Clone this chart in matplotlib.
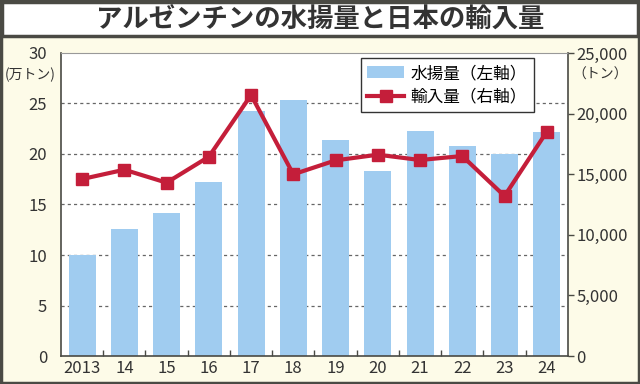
import matplotlib.pyplot as plt
from matplotlib.patches import Rectangle
from matplotlib.lines import Line2D
from matplotlib.ticker import FuncFormatter

plt.rcParams['font.family'] = ['Noto Sans CJK JP', 'DejaVu Sans']

years = ['2013', '14', '15', '16', '17', '18', '19', '20', '21', '22', '23', '24']
landings = [10.0, 12.6, 14.2, 17.2, 24.3, 25.3, 21.4, 18.3, 22.3, 20.8, 20.0, 22.2]  # 万トン
imports = [14600, 15370, 14300, 16440, 21530, 14990, 16140, 16610, 16170, 16500, 13200, 18500]  # トン

bar_color = '#a0ccf0'
line_color = '#c41e3a'
bg = '#fdfbe8'
dark = '#4a4a44'

fig = plt.figure(figsize=(6.4, 3.84), dpi=100, facecolor=bg)

# title banner and outer frame
fig.patches.append(Rectangle((0.003, 0.905), 0.994, 0.09, transform=fig.transFigure,
                             facecolor='white', edgecolor=dark, linewidth=2.5))
fig.patches.append(Rectangle((0.002, 0.003), 0.996, 0.994, transform=fig.transFigure,
                             facecolor='none', edgecolor=dark, linewidth=2.5))
fig.text(0.5, 0.951, 'アルゼンチンの水揚量と日本の輸入量', ha='center', va='center',
         fontsize=19, fontweight='bold', color='#333333')

ax = fig.add_axes([0.0953, 0.0729, 0.792, 0.7891])
x = list(range(len(years)))
ax.bar(x, landings, width=0.64, color=bar_color, zorder=2)
ax.set_xlim(-0.5, 11.5)
ax.set_ylim(0, 30)
ax.set_yticks([0, 5, 10, 15, 20, 25, 30])
ax.tick_params(axis='y', length=0, pad=10, labelsize=12, labelcolor='#333333')
ax.set_xticks(x)
ax.set_xticklabels(years)
ax.tick_params(axis='x', length=0, pad=3, labelsize=12, labelcolor='#333333')
ax.set_xticks([i + 0.5 for i in range(11)], minor=True)
ax.tick_params(axis='x', which='minor', direction='in', length=4, color=dark, width=1)
for v in [5, 10, 15, 20, 25]:
    ax.axhline(v, color='#666666', linestyle=(0, (2.5, 2.5)), linewidth=0.9, zorder=1)
for s in ax.spines.values():
    s.set_color(dark)
    s.set_linewidth(1.2)
ax.spines['top'].set_color('#999999')
ax.spines['top'].set_linewidth(0.8)
ax.set_facecolor('white')

ax2 = ax.twinx()
ax2.plot(x, imports, color=line_color, linewidth=3, marker='s', markersize=9, zorder=3)
ax2.set_ylim(0, 25000)
ax2.set_yticks([0, 5000, 10000, 15000, 20000, 25000])
ax2.yaxis.set_major_formatter(FuncFormatter(lambda v, p: f'{int(v):,}'))
ax2.tick_params(axis='y', length=4, width=1, color=dark, pad=2, labelsize=12, labelcolor='#333333')
for s in ax2.spines.values():
    s.set_visible(False)

fig.text(0.008, 0.805, '(万トン)', fontsize=10, color='#333333', va='center')
fig.text(0.895, 0.805, '（トン）', fontsize=10, color='#333333', va='center')

handles = [Rectangle((0, 0), 1, 1, facecolor=bar_color, edgecolor='none'),
           Line2D([], [], color=line_color, linewidth=3, marker='s', markersize=9)]
leg = ax2.legend(handles, ['水揚量（左軸）', '輸入量（右軸）'], loc='upper left',
                 bbox_to_anchor=(0.575, 1.01), fontsize=12, frameon=True, fancybox=False,
                 handlelength=2.2, borderpad=0.4, labelspacing=0.4, handletextpad=0.4)
leg.get_frame().set_edgecolor('#333333')
leg.get_frame().set_linewidth(1)
leg.get_frame().set_alpha(1)

fig.savefig('out.png', dpi=100, facecolor=bg)
